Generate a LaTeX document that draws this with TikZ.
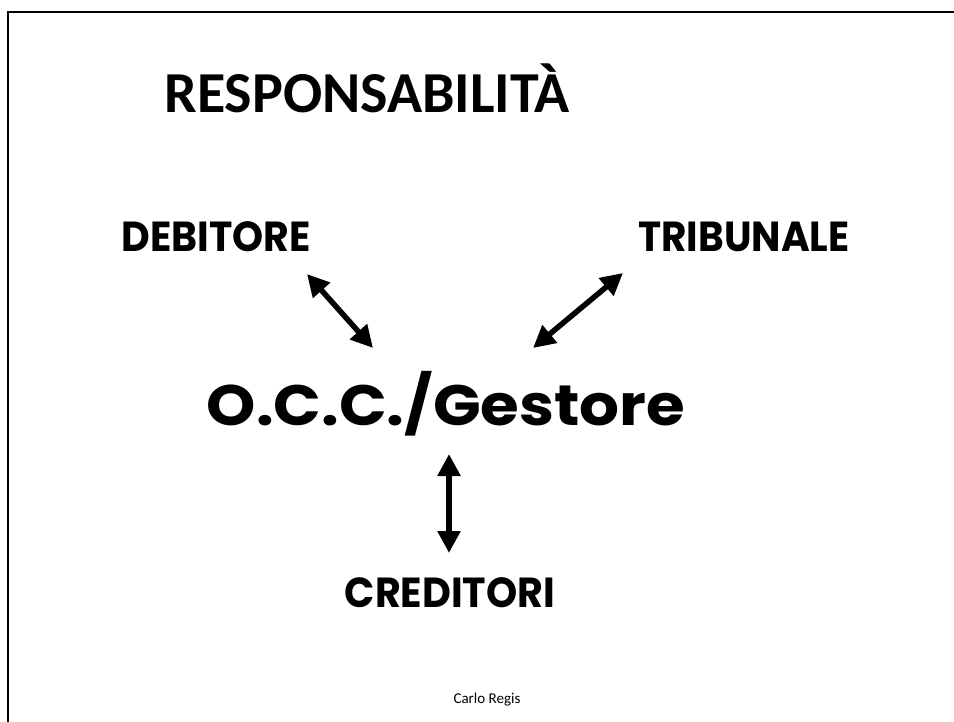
\documentclass[tikz,border=0pt]{standalone}
\usepackage{fontspec}
\setmainfont{Carlito}
\newfontfamily\geo{Poppins}
\usetikzlibrary{arrows.meta}
\tikzset{
  frame/.style={line width=2pt, line cap=rect},
  title/.style={anchor=base, inner sep=0pt, font=\fontsize{58}{60}\selectfont\bfseries},
  party/.style={anchor=base, inner sep=0pt, font=\geo\fontsize{42}{44}\selectfont\bfseries},
  central/.style={anchor=base, inner sep=0pt, font=\geo\fontsize{57}{60}\selectfont\bfseries},
  foot/.style={anchor=base, inner sep=0pt, font=\fontsize{15}{16}\selectfont},
  link/.style={line width=5.5pt, {Triangle[length=22pt,width=22pt]}-{Triangle[length=22pt,width=22pt]}}
}
\begin{document}
\begin{tikzpicture}[x=1pt, y=-1pt]
\useasboundingbox (0,0) rectangle (954,722);
\draw[frame] (8,722) -- (8,12) -- (954,12);
\node[title] (t) at (367,113) {RESPONSABILITÀ};
\node[party] (deb) at (216,252) {\scalebox{0.94}[1]{DEBITORE}};
\node[party] (trib) at (744,252) {\scalebox{0.93}[1]{TRIBUNALE}};
\node[central] (occ) at (446,425) {\scalebox{1.1}[1]{O.C.C./Gestore}};
\node[party] (cred) at (450,607) {\scalebox{0.945}[1]{CREDITORI}};
\node[foot] (cr) at (487,703) {Carlo Regis};
\coordinate (d1) at (307,274);
\coordinate (d2) at (373,348);
\coordinate (t1) at (533,348);
\coordinate (t2) at (623,273);
\coordinate (c1) at (449,454);
\coordinate (c2) at (449,553);
\draw[link] (d1) -- (d2);
\draw[link] (t1) -- (t2);
\draw[link] (c1) -- (c2);
\end{tikzpicture}
\end{document}
